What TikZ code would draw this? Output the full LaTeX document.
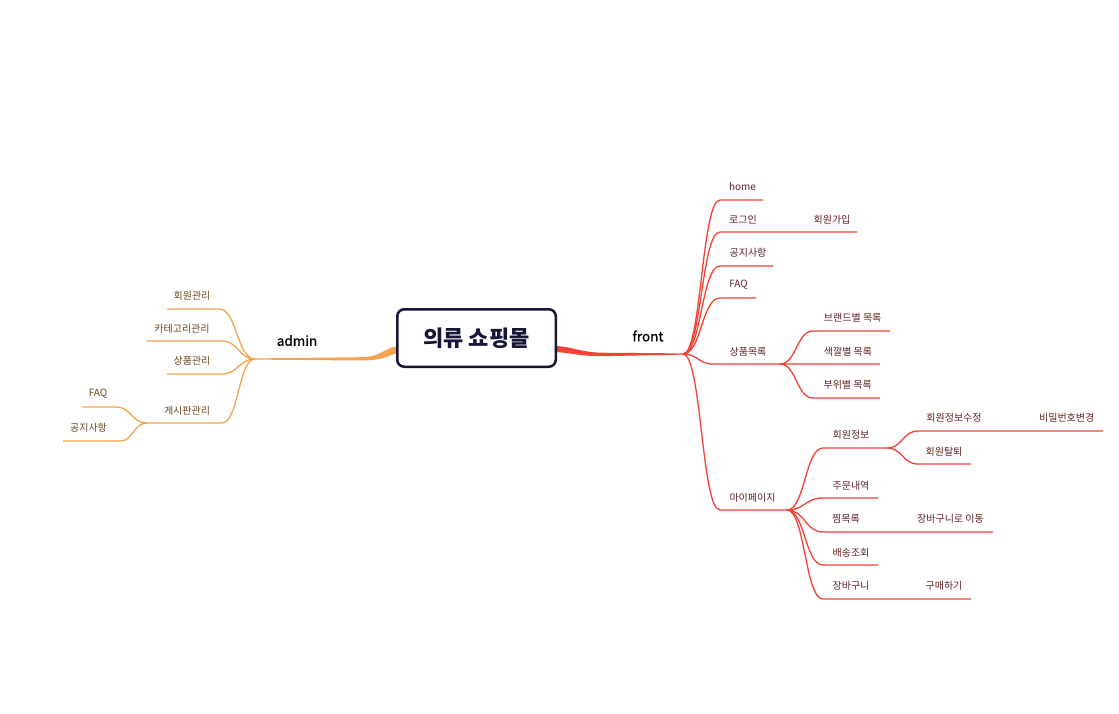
\documentclass[tikz,border=0pt]{standalone}
\usepackage{fontspec}
\setmainfont{Noto Sans CJK KR}
\newfontfamily\medfont[FakeBold=0.7]{Noto Sans CJK KR}
\usetikzlibrary{calc}
\definecolor{fr}{RGB}{244,67,54}
\definecolor{ad}{RGB}{246,162,78}
\definecolor{frt}{RGB}{98,34,34}
\definecolor{adt}{RGB}{108,70,30}
\definecolor{navy}{RGB}{22,22,56}
\tikzset{
 curv/.style={to path={let \p1=(\tikztostart), \p2=(\tikztotarget) in .. controls ({(\x1+\x2)/2},\y1) and ({(\x1+\x2)/2},\y2) .. (\tikztotarget)}},
 fbr/.style={draw=fr, line width=1.3pt, curv},
 abr/.style={draw=ad, line width=1.3pt, curv},
 flab/.style={text=frt, font=\fontsize{10}{12}\selectfont, inner sep=0pt},
 alab/.style={text=adt, font=\fontsize{10}{12}\selectfont, inner sep=0pt},
 mainlab/.style={text=black, font=\fontsize{13.5}{16}\selectfont\medfont, inner sep=0pt},
 rootbox/.style={draw=navy, fill=white, rounded corners=7pt, line width=2.5pt, minimum width=158.5pt, minimum height=57.5pt, text=navy, font=\fontsize{22}{25}\selectfont\bfseries}
}
\begin{document}
\begin{tikzpicture}[x=1pt,y=-1pt]
\path[use as bounding box, fill=white] (0,0) rectangle (1119,713);

% ---------- coordinates ----------
\coordinate (F) at (683,354);
\coordinate (A) at (255,359);
\coordinate (fs) at (557,349);
\coordinate (as) at (396,350);
% front children
\coordinate (home-a) at (720,200);   \coordinate (home-b) at (763,200);
\coordinate (login-a) at (720,232);  \coordinate (login-b) at (765,232);
\coordinate (join-b) at (857,232);
\coordinate (notice-a) at (720,266); \coordinate (notice-b) at (773,266);
\coordinate (faq-a) at (720,298);    \coordinate (faq-b) at (756,298);
\coordinate (prod-a) at (713,364);   \coordinate (prod-b) at (780,364);
\coordinate (brand-a) at (813,331);  \coordinate (brand-b) at (890,331);
\coordinate (color-b) at (880,364);
\coordinate (part-a) at (813,398);   \coordinate (part-b) at (880,398);
\coordinate (my-a) at (720,510);     \coordinate (my-b) at (787,510);
\coordinate (info-a) at (823,448);   \coordinate (info-b) at (887,448);
\coordinate (edit-a) at (918,431);   \coordinate (edit-b) at (1020,431);
\coordinate (pw-b) at (1103,431);
\coordinate (leave-a) at (918,464);  \coordinate (leave-b) at (971,464);
\coordinate (order-a) at (823,498);  \coordinate (order-b) at (878,498);
\coordinate (wish-a) at (823,532);   \coordinate (wish-b) at (908,532);
\coordinate (tocart-b) at (993,532);
\coordinate (ship-a) at (823,565);   \coordinate (ship-b) at (878,565);
\coordinate (cart-a) at (823,599);   \coordinate (cart-b) at (915,599);
\coordinate (buy-b) at (971,599);
% admin children
\coordinate (mem-a) at (219,309);    \coordinate (mem-b) at (167,309);
\coordinate (cat-a) at (222,341);    \coordinate (cat-b) at (147,341);
\coordinate (ap-a) at (222,374);     \coordinate (ap-b) at (167,374);
\coordinate (brd-a) at (222,423);    \coordinate (brd-b) at (147,423);
\coordinate (afaq-a) at (116,407);   \coordinate (afaq-b) at (82,407);
\coordinate (anot-a) at (120,441);   \coordinate (anot-b) at (63,441);

% ---------- main branches (tapered) ----------
\fill[fr] ($(fs)+(-2,-3)$) .. controls (572,346.5) and (580,352.3) .. (602,352.7) -- ($(F)+(0,-0.6)$) -- ($(F)+(0,0.6)$) -- (602,356.2) .. controls (578,356.2) and (570,352.5) .. ($(fs)+(-2,3)$) -- cycle;
\fill[ad] ($(as)+(2,-4)$) .. controls (384,348) and (382,356.5) .. (362,357.2) -- ($(A)+(0,-0.6)$) -- ($(A)+(0,0.6)$) -- (362,360.5) .. controls (386,360.5) and (390,354) .. ($(as)+(2,3)$) -- cycle;

% ---------- front connectors ----------
\draw[fbr] (F) to (home-a) -- (home-b);
\draw[fbr] (F) to (login-a) -- (login-b) -- (join-b);
\draw[fbr] (F) to (notice-a) -- (notice-b);
\draw[fbr] (F) to (faq-a) -- (faq-b);
\draw[fbr] (F) to (prod-a) -- (prod-b) -- (color-b);
\draw[fbr] (prod-b) to (brand-a) -- (brand-b);
\draw[fbr] (prod-b) to (part-a) -- (part-b);
\draw[fbr] (F) to (my-a) -- (my-b);
\draw[fbr] (my-b) to (info-a) -- (info-b);
\draw[fbr] (info-b) to (edit-a) -- (edit-b) -- (pw-b);
\draw[fbr] (info-b) to (leave-a) -- (leave-b);
\draw[fbr] (my-b) to (order-a) -- (order-b);
\draw[fbr] (my-b) to (wish-a) -- (wish-b) -- (tocart-b);
\draw[fbr] (my-b) to (ship-a) -- (ship-b);
\draw[fbr] (my-b) to (cart-a) -- (cart-b) -- (buy-b);

% ---------- admin connectors ----------
\draw[abr] (A) to (mem-a) -- (mem-b);
\draw[abr] (A) to (cat-a) -- (cat-b);
\draw[abr] (A) to (ap-a) -- (ap-b);
\draw[abr] (A) to (brd-a) -- (brd-b);
\draw[abr] (brd-b) to (afaq-a) -- (afaq-b);
\draw[abr] (brd-b) to (anot-a) -- (anot-b);

% ---------- root ----------
\node[rootbox] (root) at (476.5,338) {의류 쇼핑몰};

% ---------- labels ----------
\node[mainlab] (front) at (648,336) {front};
\node[mainlab] (admin) at (297,340.5) {admin};

\node[flab] (home) at (742.5,187) {home};
\node[flab] (login) at (743,220) {로그인};
\node[flab] (join) at (832,220) {회원가입};
\node[flab] (notice) at (748,252.5) {공지사항};
\node[flab] (faq) at (738.5,285) {FAQ};
\node[flab] (prod) at (748,352) {상품목록};
\node[flab] (brand) at (852.7,318) {브랜드별 목록};
\node[flab] (color) at (848,352) {색깔별 목록};
\node[flab] (part) at (847.7,384.5) {부위별 목록};
\node[flab] (my) at (752.5,498) {마이페이지};
\node[flab] (info) at (851,435) {회원정보};
\node[flab] (edit) at (954,418) {회원정보수정};
\node[flab] (pw) at (1066.7,418) {비밀번호변경};
\node[flab] (leave) at (944,452) {회원탈퇴};
\node[flab] (order) at (851,486) {주문내역};
\node[flab] (wish) at (846,519) {찜목록};
\node[flab] (tocart) at (950.5,519) {장바구니로 이동};
\node[flab] (ship) at (851,553) {배송조회};
\node[flab] (cart) at (851,586) {장바구니};
\node[flab] (buy) at (944,586) {구매하기};

\node[alab] (mem) at (192,296) {회원관리};
\node[alab] (cat) at (182,329) {카테고리관리};
\node[alab] (ap) at (192,361) {상품관리};
\node[alab] (brd) at (187,411) {게시판관리};
\node[alab] (afaq) at (98,394) {FAQ};
\node[alab] (anot) at (88.5,428) {공지사항};
\end{tikzpicture}
\end{document}
